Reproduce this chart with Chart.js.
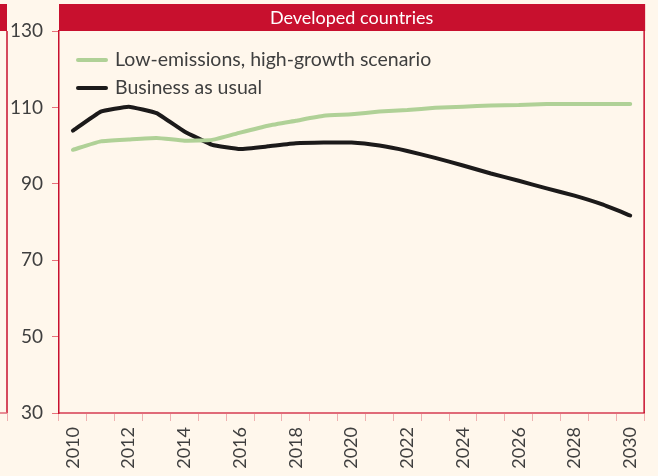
<!DOCTYPE html>
<html>
<head>
<meta charset="utf-8">
<script src="https://cdn.jsdelivr.net/npm/chart.js@4.4.1/dist/chart.umd.min.js"></script>
<style>
  html, body { margin: 0; padding: 0; background: #fff7ec; }
  #wrap { width: 658px; height: 476px; }
</style>
</head>
<body>
<div id="wrap"><canvas id="chart" width="658" height="476"></canvas></div>
<script>
const years = ['2010', '2011', '2012', '2013', '2014', '2015', '2016', '2017', '2018', '2019', '2020',
    '2021', '2022', '2023', '2024', '2025', '2026', '2027', '2028', '2029', '2030'];
const lowEmissions = [98.9, 101.1, 101.6, 102.0, 101.3, 101.5, 103.4, 105.2, 106.5, 107.8, 108.2,
    108.9, 109.3, 109.9, 110.2, 110.5, 110.6, 110.9, 110.9, 110.9, 110.9];
const businessAsUsual = [103.9, 108.9, 110.2, 108.5, 103.7, 100.2, 99.1, 99.8, 100.6, 100.8, 100.8,
    100.0, 98.6, 96.8, 94.8, 92.7, 90.8, 88.8, 86.9, 84.6, 81.7];
const seriesNames = ['Low-emissions, high-growth scenario', 'Business as usual'];
const panelTitle = 'Developed countries';

const RED = '#c8102e';
const GREEN = '#b0d197';
const BLACK = '#1c1a1a';
const TEXT = '#3f3f3f';
const FONT = 'Lato, "Open Sans", sans-serif';

// frame, title bar, legend and the cut-off neighbour panel
const decor = {
    id: 'decor',
    beforeDraw(chart) {
        const c = chart.ctx;
        const a = chart.chartArea;
        c.save();
        c.fillStyle = '#fff7ec';
        c.fillRect(0, 0, chart.width, chart.height);
        // title bar
        c.fillStyle = RED;
        c.fillRect(a.left, 4, a.right - a.left + 1, a.top - 4);
        c.fillStyle = '#ffffff';
        c.font = '18px ' + FONT;
        c.textAlign = 'center';
        c.textBaseline = 'middle';
        c.fillText(panelTitle, (a.left + a.right) / 2, (a.top + 4) / 2 + 1);
        // left neighbour panel edge
        c.fillStyle = RED;
        c.fillRect(0, 4, 7, a.top - 4);
        c.strokeStyle = RED;
        c.lineWidth = 1.5;
        c.beginPath();
        c.moveTo(7, a.top);
        c.lineTo(7, a.bottom);
        c.stroke();
        c.strokeStyle = '#e06a78';
        c.beginPath();
        c.moveTo(0, a.bottom);
        c.lineTo(7, a.bottom);
        c.stroke();
        c.strokeStyle = '#efb0b0';
        c.lineWidth = 1;
        c.beginPath();
        c.moveTo(7.5, a.bottom);
        c.lineTo(7.5, a.bottom + 8);
        c.stroke();
        c.restore();
    },
    afterDraw(chart) {
        const c = chart.ctx;
        const a = chart.chartArea;
        c.save();
        // right border
        c.strokeStyle = RED;
        c.lineWidth = 1.5;
        c.beginPath();
        c.moveTo(a.right, a.top);
        c.lineTo(a.right, a.bottom);
        c.stroke();
        // legend
        const colors = [GREEN, BLACK];
        c.font = '19.5px ' + FONT;
        c.textBaseline = 'middle';
        c.textAlign = 'left';
        seriesNames.forEach((name, i) => {
            const y = a.top + 29 + i * 28;
            c.strokeStyle = colors[i];
            c.lineWidth = 4;
            c.lineCap = 'round';
            c.beginPath();
            c.moveTo(a.left + 19, y);
            c.lineTo(a.left + 47, y);
            c.stroke();
            c.fillStyle = TEXT;
            c.fillText(name, a.left + 56, y);
        });
        c.restore();
    }
};

const ctx = document.getElementById('chart').getContext('2d');
new Chart(ctx, {
    type: 'line',
    data: {
        labels: years,
        datasets: [{
            label: seriesNames[0],
            data: lowEmissions,
            borderColor: GREEN,
            borderWidth: 4,
            pointRadius: 0,
            tension: 0.15,
            borderCapStyle: 'round'
        }, {
            label: seriesNames[1],
            data: businessAsUsual,
            borderColor: BLACK,
            borderWidth: 4,
            pointRadius: 0,
            tension: 0.1,
            borderCapStyle: 'round'
        }]
    },
    options: {
        responsive: false,
        animation: false,
        layout: { padding: { left: 0, right: 8, top: 31, bottom: 0 } },
        plugins: {
            legend: { display: false },
            tooltip: { enabled: false }
        },
        scales: {
            x: {
                type: 'category',
                offset: true,
                afterFit(scale) { scale.height = 63; },
                grid: {
                    offset: true,
                    drawOnChartArea: false,
                    drawTicks: true,
                    tickLength: 8,
                    color: '#efb0b0'
                },
                border: { color: '#e06a78', width: 2 },
                ticks: {
                    autoSkip: false,
                    minRotation: 90,
                    maxRotation: 90,
                    padding: 6,
                    color: TEXT,
                    font: { family: FONT, size: 18 },
                    callback(v, i) { return i % 2 === 0 ? years[i] : ''; }
                }
            },
            y: {
                min: 30,
                max: 130,
                afterFit(scale) { scale.width = 59; },
                grid: {
                    drawOnChartArea: false,
                    drawTicks: true,
                    tickLength: 7,
                    color: '#e8707a'
                },
                border: { color: RED, width: 1.5 },
                ticks: {
                    stepSize: 20,
                    padding: 9,
                    color: TEXT,
                    font: { family: FONT, size: 19 }
                }
            }
        }
    },
    plugins: [decor]
});
</script>
</body>
</html>
